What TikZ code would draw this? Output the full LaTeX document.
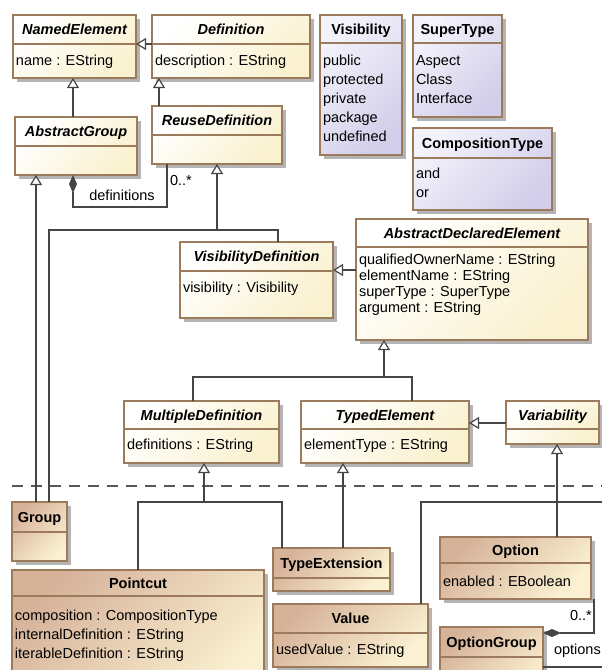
\documentclass[tikz,border=0pt]{standalone}
\usepackage{fontspec}
\setmainfont{Liberation Sans}
\usetikzlibrary{arrows.meta}
\definecolor{bordc}{HTML}{9B7B5B}
\definecolor{absc}{HTML}{FAF1CF}
\definecolor{enumlt}{HTML}{F4F2FB}
\definecolor{enumdk}{HTML}{D3CEEA}
\definecolor{conclt}{HTML}{FBF1D2}
\definecolor{concdk}{HTML}{D6B299}
\definecolor{linec}{HTML}{454545}
\definecolor{shadc}{HTML}{B4B4B4}
\tikzset{
  every node/.style={inner sep=0pt, outer sep=0pt, font=\fontsize{14.5}{17}\selectfont},
  boxbase/.style={draw=bordc, line width=1.1pt},
  absbox/.style={boxbase, left color=white, right color=absc, shading angle=45},
  enumbox/.style={boxbase, left color=enumlt, right color=enumdk, shading angle=45},
  concbox/.style={boxbase, left color=concdk, right color=conclt, shading angle=45},
  abstitle/.style={font=\fontsize{14.5}{17}\selectfont\bfseries\itshape},
  enumtitle/.style={font=\fontsize{14.5}{17}\selectfont\bfseries},
  conctitle/.style={font=\fontsize{14.5}{17}\selectfont\bfseries},
  conn/.style={draw=linec, line width=1.2pt},
  gen/.style={conn, -{Triangle[open, length=10pt, width=12pt, fill=white]}},
  comp/.style={conn, {Diamond[length=18pt, width=8pt, fill=linec]}-},
  dashline/.style={draw=linec!90, line width=1.1pt, dash pattern=on 11pt off 8pt},
  lbl/.style={anchor=base}
}
\newcommand\umlclass[9]{%
  \fill[shadc] ({#3+4},{#4+4}) rectangle ({#5+4},{#6+4});
  \node[#2box, minimum width={#5-#3}, minimum height={#6-#4}, anchor=north west] (#1) at (#3,#4) {};
  \draw[bordc, line width=1.1pt] (#3,#7) -- (#5,#7);
  \node[#2title, anchor=base] (#1-t) at ({(#3+#5)/2},{(#4+#7)/2+5}) {#8};
  \def\umlattrs{#9}%
  \ifx\umlattrs\empty\else
    \foreach \attr [count=\i from 0] in {#9} {\node[anchor=base west] (#1-a\i) at ({#3+3},{#7+\afirst+\i*\lsp}) {\attr};}
  \fi
}
\begin{document}
\begin{tikzpicture}[x=1pt, y=-1pt]
\useasboundingbox (0,0) rectangle (602,670);
\clip (0,0) rectangle (602,670);
\coordinate (dl) at (12,486);
\coordinate (dr) at (602,486);
\draw[dashline] (dl) -- (dr);

\def\lsp{19}\def\afirst{21}
\umlclass{NamedElement}{abs}{13}{15}{136}{78}{44}{NamedElement}{name : EString}
\umlclass{Definition}{abs}{152}{15}{310}{78}{44}{Definition}{description : EString}
\def\afirst{22}
\umlclass{Visibility}{enum}{320}{15}{402}{155}{43}{Visibility}{public,protected,private,package,undefined}
\umlclass{SuperType}{enum}{413}{15}{502}{117}{43}{SuperType}{Aspect,Class,Interface}
\def\afirst{20}
\umlclass{CompositionType}{enum}{413}{128}{552}{210}{158}{CompositionType}{and,or}
\umlclass{AbstractGroup}{abs}{15}{117}{137}{175}{146}{AbstractGroup}{}
\umlclass{ReuseDefinition}{abs}{152}{106}{282}{164}{135}{ReuseDefinition}{}
\def\afirst{21}
\umlclass{VisibilityDefinition}{abs}{180}{242}{333}{318}{271}{VisibilityDefinition}{visibility : Visibility}
\def\lsp{16}\def\afirst{17}
\umlclass{ADE}{abs}{356}{219}{588}{340}{247}{AbstractDeclaredElement}{qualifiedOwnerName : EString,elementName : EString,superType : SuperType,argument : EString}
\def\lsp{19}\def\afirst{20}
\umlclass{MultipleDefinition}{abs}{124}{401}{279}{463}{429}{MultipleDefinition}{definitions : EString}
\umlclass{TypedElement}{abs}{301}{401}{469}{463}{429}{TypedElement}{elementType : EString}
\umlclass{Variability}{abs}{506}{401}{599}{444}{429}{Variability}{}
\umlclass{Group}{conc}{12}{502}{67}{561}{532}{Group}{}
\def\afirst{24}
\umlclass{Pointcut}{conc}{12}{570}{264}{700}{596}{Pointcut}{composition : CompositionType,internalDefinition : EString,iterableDefinition : EString}
\umlclass{TypeExtension}{conc}{273}{548}{390}{591}{578}{TypeExtension}{}
\def\afirst{21}
\umlclass{Value}{conc}{273}{604}{428}{667}{633}{Value}{usedValue : EString}
\def\afirst{23}
\umlclass{Option}{conc}{440}{537}{591}{599}{563}{Option}{enabled : EBoolean}
\umlclass{OptionGroup}{conc}{440}{627}{543}{700}{657}{OptionGroup}{}

% connectors
\draw[gen] (AbstractGroup.north -| 73,0) -- (NamedElement.south -| 73,0);
\draw[gen] (Definition.west |- 0,44) -- (NamedElement.east |- 0,44);
\draw[gen] (ReuseDefinition.north -| 159,0) -- (Definition.south -| 159,0);
\draw[comp] (AbstractGroup.south -| 73,0) |- (167,207) -- (ReuseDefinition.south -| 167,0);
\node[lbl] (defl) at (122,200) {definitions};
\node[lbl] (defm) at (181,185) {0..*};
\draw[gen] (Group.north -| 36,0) -- (AbstractGroup.south -| 36,0);
\coordinate (j1) at (217,230);
\draw[conn] (Group.north -| 49,0) |- (j1) -| (VisibilityDefinition.north -| 278,0);
\draw[gen] (j1) -- (ReuseDefinition.south -| j1);
\draw[gen] (ADE.west |- 0,270) -- (VisibilityDefinition.east |- 0,270);
\coordinate (j2) at (384,377);
\draw[conn] (MultipleDefinition.north -| 193,0) |- (j2) -| (TypedElement.north -| 412,0);
\draw[gen] (j2) -- (ADE.south -| j2);
\draw[gen] (Variability.west |- 0,423) -- (TypedElement.east |- 0,423);
\coordinate (j3) at (204,502);
\draw[conn] (Pointcut.north -| 138,0) |- (j3) -| (TypeExtension.north -| 282,0);
\draw[gen] (j3) -- (MultipleDefinition.south -| j3);
\draw[gen] (TypeExtension.north -| 343,0) -- (TypedElement.south -| 343,0);
\draw[gen] (Option.north -| 557,0) -- (Variability.south -| 557,0);
\coordinate (vend) at (602,502);
\draw[conn] (Value.north -| 421,0) |- (vend);
\draw[comp] (OptionGroup.east |- 0,633) -| (Option.south -| 594,0);
\node[lbl] (optm) at (581,620) {0..*};
\node[anchor=base west] (optl) at (554,654) {options};
\coordinate (oend) at (602,667);
\draw[conn] (OptionGroup.east |- 0,667) -- (oend);
\end{tikzpicture}
\end{document}
